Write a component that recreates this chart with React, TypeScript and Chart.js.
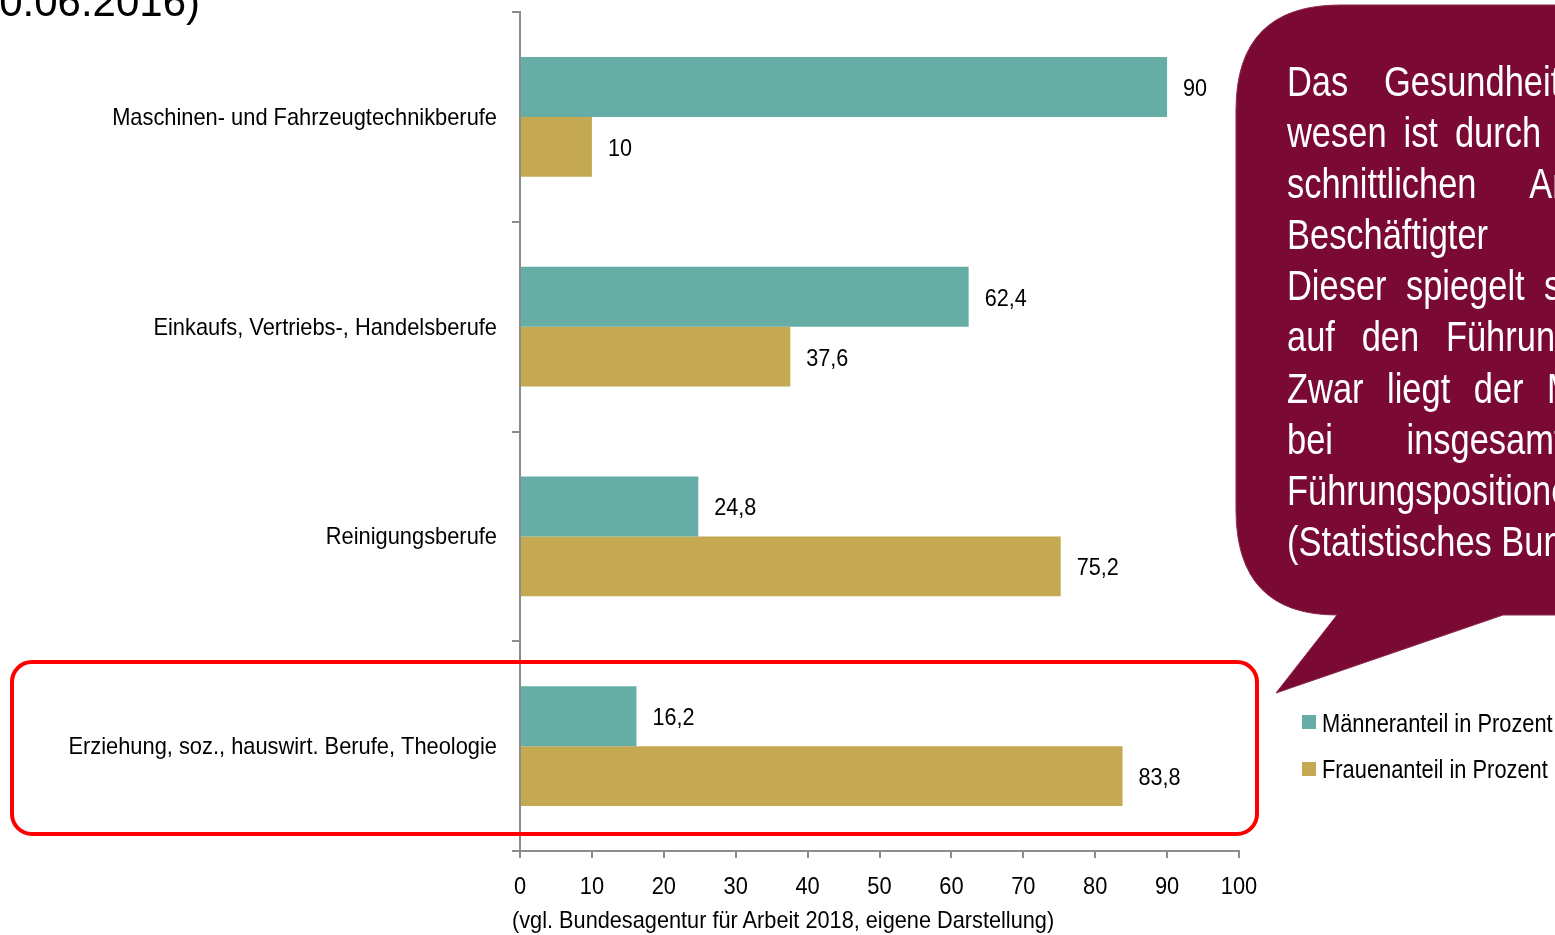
import React, { useEffect, useRef } from "react";
import { Chart, registerables } from "chart.js";

Chart.register(...registerables);

const categories = [
  "Maschinen- und Fahrzeugtechnikberufe",
  "Einkaufs, Vertriebs-, Handelsberufe",
  "Reinigungsberufe",
  "Erziehung, soz., hauswirt. Berufe, Theologie",
];
const maennerAnteil = [90, 62.4, 24.8, 16.2];
const frauenAnteil = [10, 37.6, 75.2, 83.8];
const seriesLabels = ["Männeranteil in Prozent", "Frauenanteil in Prozent"];
const seriesColors = ["#66ADA6", "#C4A852"];
const xMin = 0;
const xMax = 100;
const xStep = 10;

const sourceText = "(vgl. Bundesagentur für Arbeit 2018, eigene Darstellung)";
const titleText = "(Stand: 30.06.2016)";
const bubbleLines = [
  "Das Gesundheits- und Sozial-",
  "wesen ist durch einen über-",
  "schnittlichen Anteil weiblicher",
  "Beschäftigter gekennzeichnet.",
  "Dieser spiegelt sich jedoch nicht",
  "auf den Führungsebenen wider.",
  "Zwar liegt der Männeranteil",
  "bei insgesamt 20 Prozent, in",
  "Führungspositionen jedoch bei",
  "(Statistisches Bundesamt 2017).",
];
const bubbleWordSpacing = [32, 9, 55, 85, 12, 21, 17, 78, 0, 0];

const SANS = '"Liberation Sans", Arial, sans-serif';

const fmt = (v: number) => String(v).replace(".", ",");

function drawNarrow(
  ctx: CanvasRenderingContext2D,
  text: string,
  x: number,
  y: number,
  size: number,
  sx: number,
  align: CanvasTextAlign
) {
  ctx.save();
  ctx.font = `${size}px ${SANS}`;
  ctx.fillStyle = "#000";
  ctx.textAlign = align;
  ctx.textBaseline = "alphabetic";
  ctx.translate(x, y);
  ctx.scale(sx, 1);
  ctx.fillText(text, 0, 0);
  ctx.restore();
}

const labelPlugin = {
  id: "narrowLabels",
  afterDraw(chart: any) {
    const ctx = chart.ctx as CanvasRenderingContext2D;
    const xs = chart.scales.x;
    const ys = chart.scales.y;
    // category labels
    ys.ticks.forEach((_t: any, i: number) => {
      const y = ys.getPixelForTick(i);
      drawNarrow(ctx, String(chart.data.labels[i]), ys.right - 23, y + 8, 24, 0.91, "right");
    });
    // x tick labels
    xs.ticks.forEach((t: any) => {
      const x = xs.getPixelForValue(t.value);
      drawNarrow(ctx, String(t.value), x, xs.top + 43, 24, 0.91, "center");
    });
    // data labels
    chart.data.datasets.forEach((ds: any, i: number) => {
      const meta = chart.getDatasetMeta(i);
      meta.data.forEach((el: any, j: number) => {
        drawNarrow(ctx, fmt(ds.data[j]), el.x + 16, el.y + 9, 24, 0.9, "left");
      });
    });
  },
};

export default function App() {
  const canvasRef = useRef<HTMLCanvasElement | null>(null);

  useEffect(() => {
    if (!canvasRef.current) return;
    const chart = new Chart(canvasRef.current, {
      type: "bar",
      data: {
        labels: categories,
        datasets: [
          {
            label: seriesLabels[0],
            data: maennerAnteil,
            backgroundColor: seriesColors[0],
            categoryPercentage: 120 / 210,
            barPercentage: 1,
          },
          {
            label: seriesLabels[1],
            data: frauenAnteil,
            backgroundColor: seriesColors[1],
            categoryPercentage: 120 / 210,
            barPercentage: 1,
          },
        ],
      },
      options: {
        indexAxis: "y",
        responsive: false,
        animation: false,
        events: [],
        layout: { padding: { left: 0, right: 316, top: 12, bottom: 0 } },
        plugins: {
          legend: { display: false },
          tooltip: { enabled: false },
          title: { display: false },
        },
        scales: {
          x: {
            min: xMin,
            max: xMax,
            ticks: { stepSize: xStep, display: false },
            grid: {
              display: true,
              drawOnChartArea: false,
              drawTicks: true,
              tickLength: 7,
              color: "#8c8c8c",
              lineWidth: 2,
            },
            border: { display: true, color: "#8c8c8c", width: 2 },
            afterFit: (s: any) => {
              s.height = 84;
            },
          },
          y: {
            offset: true,
            ticks: { display: false },
            grid: {
              display: true,
              offset: true,
              drawOnChartArea: false,
              drawTicks: true,
              tickLength: 8,
              color: "#8c8c8c",
              lineWidth: 2,
            },
            border: { display: true, color: "#8c8c8c", width: 2 },
            afterFit: (s: any) => {
              s.width = 520;
            },
          },
        },
      },
      plugins: [labelPlugin],
    } as any);
    return () => chart.destroy();
  }, []);

  return (
    <div
      style={{
        position: "fixed",
        left: 0,
        top: 0,
        width: 1555,
        height: 935,
        overflow: "hidden",
        background: "#fff",
        fontFamily: SANS,
      }}
    >
      <canvas
        ref={canvasRef}
        width={1555}
        height={935}
        style={{ position: "absolute", left: 0, top: 0, width: 1555, height: 935 }}
      />
      {/* title fragment */}
      <div
        style={{
          position: "absolute",
          right: 1555 - 200,
          top: -18.6,
          fontSize: 42,
          lineHeight: "42px",
          whiteSpace: "nowrap",
          color: "#000",
        }}
      >
        {titleText}
      </div>
      {/* highlight rectangle */}
      <div
        style={{
          position: "absolute",
          left: 10,
          top: 660,
          width: 1245 - 4,
          height: 172 - 4,
          border: "4px solid #FF0000",
          borderRadius: 22,
          boxSizing: "content-box",
        }}
      />
      {/* speech bubble */}
      <svg width={1555} height={935} style={{ position: "absolute", left: 0, top: 0 }}>
        <path
          d="M 1340 5 L 1560 5 L 1560 615 L 1503 615 L 1276 693 L 1337 615 Q 1236 615 1236 510 L 1236 110 Q 1236 5 1340 5 Z"
          fill="#7A0A33"
          stroke="#8a2a4a"
          strokeWidth={1}
        />
      </svg>
      {bubbleLines.map((t, i) => (
        <div
          key={i}
          style={{
            position: "absolute",
            left: 1287,
            top: 55.9 + i * 51.1,
            fontSize: 42,
            lineHeight: "51.1px",
            whiteSpace: "pre",
            wordSpacing: bubbleWordSpacing[i],
            color: "#fff",
            transform: "scaleX(0.82)",
            transformOrigin: "left top",
          }}
        >
          {t}
        </div>
      ))}
      {/* legend */}
      {seriesLabels.map((l, i) => (
        <React.Fragment key={l}>
          <div
            style={{
              position: "absolute",
              left: 1302,
              top: 715 + i * 47,
              width: 14,
              height: 14,
              background: seriesColors[i],
            }}
          />
          <div
            style={{
              position: "absolute",
              left: 1322,
              top: 710 + i * 46,
              fontSize: 26,
              lineHeight: "26px",
              whiteSpace: "nowrap",
              color: "#000",
              transform: "scaleX(0.84)",
              transformOrigin: "left top",
            }}
          >
            {l}
          </div>
        </React.Fragment>
      ))}
      {/* source */}
      <div
        style={{
          position: "absolute",
          left: 512,
          top: 907.7,
          fontSize: 24,
          lineHeight: "24px",
          whiteSpace: "nowrap",
          color: "#000",
          transform: "scaleX(0.905)",
          transformOrigin: "left top",
        }}
      >
        {sourceText}
      </div>
    </div>
  );
}
